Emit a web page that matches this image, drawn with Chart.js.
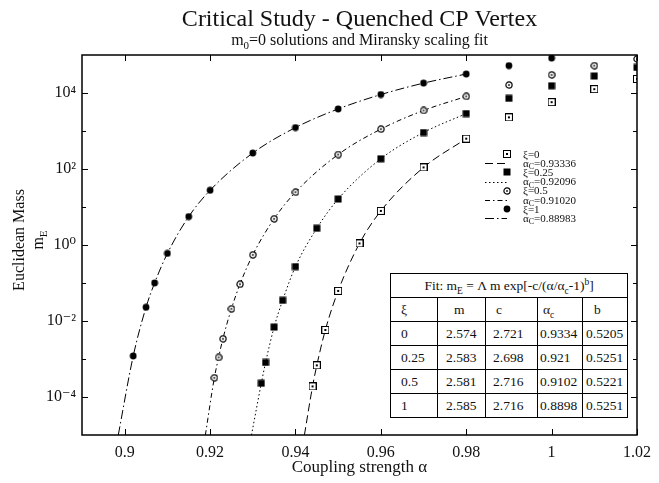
<!DOCTYPE html>
<html>
<head>
<meta charset="utf-8">
<script src="https://cdn.jsdelivr.net/npm/chart.js@4.4.0/dist/chart.umd.min.js"></script>
<style>
  html, body { margin: 0; padding: 0; background: #fff; }
  #wrap { position: relative; width: 659px; height: 483px; }
  #chart { position: absolute; left: 0; top: 0; }
  #fitTable {
    position: absolute; left: 390px; top: 273px; width: 237px;
    border-collapse: collapse; table-layout: fixed; background: #fff;
    font-family: "Liberation Serif", "DejaVu Serif", serif; font-size: 13.5px; color: #111;
    border: 1.5px solid #000;
  }
  #fitTable td { border: 1px solid #000; padding: 0; height: 23px; line-height: 14px; white-space: nowrap; }
  #fitTable td.head { text-align: center; }
  #fitTable sub, #fitTable sup { font-size: 70%; line-height: 0; }
</style>
</head>
<body>
<div id="wrap">
  <canvas id="chart" width="659" height="483"></canvas>
  <table id="fitTable">
    <colgroup><col style="width:47px"><col style="width:48px"><col style="width:52px"><col style="width:45px"><col style="width:45px"></colgroup>
    <tbody>
      <tr><td class="head" colspan="5">Fit: m<sub>E</sub> = &Lambda; m exp[-c/(&alpha;/&alpha;<sub>c</sub>-1)<sup>b</sup>]</td></tr>
      <tr><td style="padding-left:10px">&xi;</td><td style="padding-left:16px">m</td><td style="padding-left:10px">c</td><td style="padding-left:5px">&alpha;<sub>c</sub></td><td style="padding-left:11px">b</td></tr>
    </tbody>
  </table>
</div>
<script>
// ---- data ----
const xiLabels = ['0', '0.25', '0.5', '1'];
const alphaCLabels = ['0.93336', '0.92096', '0.91020', '0.88983'];

// solutions (markers)
const alphaXi0 = [0.944, 0.945, 0.947, 0.95, 0.955, 0.96, 0.97, 0.98, 0.99, 1.0, 1.01, 1.02];
const massXi0 = [1.9e-4, 6.8e-4, 5.8e-3, 6.2e-2, 1.1, 7.9, 110, 630, 2290, 5750, 12600, 23400];

const alphaXi025 = [0.932, 0.933, 0.935, 0.937, 0.94, 0.945, 0.95, 0.96, 0.97, 0.98, 0.99, 1.0, 1.01, 1.02];
const massXi025 = [2.3e-4, 8.1e-4, 6.9e-3, 3.5e-2, 0.27, 2.75, 16.2, 186, 912, 2880, 7240, 15500, 28000, 47000];

const alphaXi05 = [0.921, 0.922, 0.923, 0.925, 0.927, 0.93, 0.935, 0.94, 0.95, 0.96, 0.97, 0.98, 0.99, 1.0, 1.01, 1.02];
const massXi05 = [3.2e-4, 1.1e-3, 3.4e-3, 2.1e-2, 9.3e-2, 0.55, 4.9, 24.5, 240, 1120, 3470, 8130, 16200, 30000, 52500, 79000];

const alphaXi1 = [0.902, 0.905, 0.907, 0.91, 0.915, 0.92, 0.93, 0.94, 0.95, 0.96, 0.97, 0.98, 0.99, 1.0];
const massXi1 = [1.2e-3, 2.3e-2, 0.10, 0.60, 5.6, 27.5, 263, 1230, 3800, 9100, 18200, 31600, 52500, 83000];

// fit curves, points
const fitAlphaXi0 = [0.9421, 0.944, 0.945, 0.947, 0.95, 0.955, 0.96, 0.97, 0.98];
const fitMassXi0 = [1e-5, 1.9e-4, 6.8e-4, 5.8e-3, 6.2e-2, 1.1, 7.9, 110, 630];
const fitAlphaXi025 = [0.9297, 0.932, 0.933, 0.935, 0.937, 0.94, 0.945, 0.95, 0.96, 0.97, 0.98];
const fitMassXi025 = [1e-5, 2.3e-4, 8.1e-4, 6.9e-3, 3.5e-2, 0.27, 2.75, 16.2, 186, 912, 2880];
const fitAlphaXi05 = [0.9189, 0.921, 0.922, 0.923, 0.925, 0.927, 0.93, 0.935, 0.94, 0.95, 0.96, 0.97, 0.98];
const fitMassXi05 = [1e-5, 3.2e-4, 1.1e-3, 3.4e-3, 2.1e-2, 9.3e-2, 0.55, 4.9, 24.5, 240, 1120, 3470, 8130];
const fitAlphaXi1 = [0.8985, 0.902, 0.905, 0.907, 0.91, 0.915, 0.92, 0.93, 0.94, 0.95, 0.96, 0.97, 0.98];
const fitMassXi1 = [1e-5, 1.2e-3, 2.3e-2, 0.10, 0.60, 5.6, 27.5, 263, 1230, 3800, 9100, 18200, 31600];

// axis ticks
const xTicks = [0.9, 0.92, 0.94, 0.96, 0.98, 1.0, 1.02];
const yLabelExps = [-4, -2, 0, 2, 4];
const yDecadeExps = [-4, -3, -2, -1, 0, 1, 2, 3, 4];

// fit table
const tableXi = ['0', '0.25', '0.5', '1'];
const tableM = ['2.574', '2.583', '2.581', '2.585'];
const tableC = ['2.721', '2.698', '2.716', '2.716'];
const tableAlphaC = ['0.9334', '0.921', '0.9102', '0.8898'];
const tableB = ['0.5205', '0.5251', '0.5221', '0.5251'];
const cellPad = [10, 8, 7, 2, 3];

const serif = '"Liberation Serif", "DejaVu Serif", serif';

// fill table rows
const tbody = document.querySelector('#fitTable tbody');
tableXi.forEach((xi, i) => {
  const tr = document.createElement('tr');
  [xi, tableM[i], tableC[i], tableAlphaC[i], tableB[i]].forEach((t, j) => {
    const td = document.createElement('td');
    td.textContent = t;
    td.style.paddingLeft = cellPad[j] + 'px';
    tr.appendChild(td);
  });
  tbody.appendChild(tr);
});

// marker images
function makeMarker(kind) {
  const c = document.createElement('canvas');
  c.width = 8; c.height = 8;
  const g = c.getContext('2d');
  g.fillStyle = '#000'; g.strokeStyle = '#000'; g.lineWidth = 1;
  if (kind === 'openSquare') {
    g.fillStyle = '#fff'; g.fillRect(0, 0, 8, 8);
    g.strokeRect(0.5, 0.5, 7, 7);
    g.fillStyle = '#000'; g.fillRect(3, 3, 2, 2);
  } else if (kind === 'filledSquare') {
    g.fillRect(0.5, 0.5, 7, 7);
  } else if (kind === 'openCircle') {
    g.lineWidth = 1.2;
    g.beginPath(); g.arc(4, 4, 3.1, 0, Math.PI * 2); g.fillStyle = '#fff'; g.fill(); g.stroke();
    g.fillStyle = '#000'; g.fillRect(3.2, 3.2, 1.6, 1.6);
  } else {
    g.beginPath(); g.arc(4, 4, 3.4, 0, Math.PI * 2); g.fill();
  }
  return c;
}

const markers = [makeMarker('openSquare'), makeMarker('filledSquare'), makeMarker('openCircle'), makeMarker('filledCircle')];
const dashes = [[8, 4], [1.5, 2.5], [5, 3, 1.5, 3], [9, 3, 1.5, 3]];

const pointSets = [[alphaXi0, massXi0], [alphaXi025, massXi025], [alphaXi05, massXi05], [alphaXi1, massXi1]];
const fitSets = [[fitAlphaXi0, fitMassXi0], [fitAlphaXi025, fitMassXi025], [fitAlphaXi05, fitMassXi05], [fitAlphaXi1, fitMassXi1]];

function toXY(xs, ys) {
  return xs.map((x, i) => ({ x: x, y: ys[i] }));
}

const datasets = [];
fitSets.forEach((s, i) => {
  datasets.push({
    label: 'αC=' + alphaCLabels[i],
    data: toXY(s[0], s[1]),
    showLine: true,
    borderColor: '#000',
    borderWidth: 1,
    borderDash: dashes[i],
    pointRadius: 0,
    cubicInterpolationMode: 'monotone',
    order: 2,
  });
});
pointSets.forEach((s, i) => {
  datasets.push({
    label: 'ξ=' + xiLabels[i],
    data: toXY(s[0], s[1]),
    showLine: false,
    pointStyle: markers[i],
    pointRadius: 4,
    order: 1,
  });
});

const supMap = { '-': '⁻', '0': '⁰', '1': '¹', '2': '²', '3': '³', '4': '⁴' };

function drawSubText(ctx, parts, x, y, align) {
  ctx.save();
  ctx.textBaseline = 'alphabetic';
  ctx.textAlign = 'left';
  let w = 0;
  parts.forEach(p => { ctx.font = p[1] + 'px ' + serif; w += ctx.measureText(p[0]).width; });
  let cx = align === 'center' ? x - w / 2 : x;
  parts.forEach(p => {
    ctx.font = p[1] + 'px ' + serif;
    ctx.fillText(p[0], cx, y + p[2]);
    cx += ctx.measureText(p[0]).width;
  });
  ctx.restore();
}

// frame, inward ticks, titles and legend
const decorPlugin = {
  id: 'decor',
  afterDraw(chart) {
    const { ctx, chartArea: a, scales } = chart;
    const x = scales.x, y = scales.y;
    ctx.save();
    ctx.strokeStyle = '#000';
    ctx.lineWidth = 1.5;
    ctx.strokeRect(a.left, a.top, a.right - a.left, a.bottom - a.top);
    ctx.lineWidth = 1;
    ctx.beginPath();
    xTicks.forEach(v => {
      const px = Math.round(x.getPixelForValue(v)) + 0.5;
      ctx.moveTo(px, a.bottom); ctx.lineTo(px, a.bottom - 6);
      ctx.moveTo(px, a.top); ctx.lineTo(px, a.top + 6);
    });
    yDecadeExps.forEach(e => {
      const py = Math.round(y.getPixelForValue(Math.pow(10, e))) + 0.5;
      const len = e % 2 === 0 ? 6 : 4;
      ctx.moveTo(a.left, py); ctx.lineTo(a.left + len, py);
      ctx.moveTo(a.right, py); ctx.lineTo(a.right - len, py);
    });
    ctx.stroke();

    // titles
    ctx.fillStyle = '#111';
    ctx.textBaseline = 'alphabetic';
    ctx.textAlign = 'center';
    const cx = (a.left + a.right) / 2;
    ctx.font = '24px ' + serif;
    ctx.fillText('Critical Study - Quenched CP Vertex', cx, 26);
    drawSubText(ctx, [['m', 16, 0], ['0', 11, 4], ['=0 solutions and Miransky scaling fit', 16, 0]], cx, 45, 'center');

    // y axis title
    ctx.save();
    ctx.translate(24, 240);
    ctx.rotate(-Math.PI / 2);
    ctx.font = '16px ' + serif;
    ctx.textAlign = 'center';
    ctx.fillText('Euclidean Mass', 0, 0);
    drawSubText(ctx, [['m', 16, 0], ['E', 11, 4]], 0, 19, 'center');
    ctx.restore();

    // legend
    const lx = 507, tx = 523;
    let ly = 154;
    for (let i = 0; i < 4; i++) {
      ctx.drawImage(markers[i], lx - 4, Math.round(ly) - 4);
      drawSubText(ctx, [['ξ=' + xiLabels[i], 11, 0]], tx, ly + 3.5, 'left');
      ly += 9.2;
      ctx.beginPath();
      ctx.setLineDash(dashes[i]);
      ctx.moveTo(485, Math.round(ly) + 0.5); ctx.lineTo(507, Math.round(ly) + 0.5);
      ctx.stroke();
      ctx.setLineDash([]);
      drawSubText(ctx, [['α', 11, 0], ['C', 8, 2.5], ['=' + alphaCLabels[i], 11, 0]], tx, ly + 3.5, 'left');
      ly += 9.2;
    }
    ctx.restore();
  }
};

new Chart(document.getElementById('chart'), {
  type: 'line',
  data: { datasets: datasets },
  options: {
    responsive: false,
    animation: false,
    layout: { padding: { left: 0, right: 16, top: 55, bottom: 0 } },
    plugins: { legend: { display: false }, tooltip: { enabled: false }, title: { display: false } },
    scales: {
      x: {
        type: 'linear',
        min: 0.89,
        max: 1.02,
        afterBuildTicks: s => { s.ticks = xTicks.map(v => ({ value: v })); },
        afterFit: s => { s.height = 48; },
        grid: { display: false, drawTicks: false },
        border: { display: false },
        ticks: {
          color: '#111', padding: 8, maxRotation: 0, autoSkip: false,
          font: { family: serif, size: 16 },
          callback: v => String(+v.toFixed(2)),
        },
        title: {
          display: true, text: 'Coupling strength α', color: '#111',
          font: { family: serif, size: 17 }, padding: { top: 0, bottom: 5 },
        },
      },
      y: {
        type: 'logarithmic',
        min: 1e-5,
        max: 1e5,
        afterBuildTicks: s => { s.ticks = yLabelExps.map(e => ({ value: Math.pow(10, e) })); },
        afterFit: s => { s.width = 82; },
        grid: { display: false, drawTicks: false },
        border: { display: false },
        ticks: {
          color: '#111', padding: 6, autoSkip: false,
          font: { family: serif, size: 16 },
          callback: v => '10' + String(Math.round(Math.log10(v))).split('').map(c => supMap[c]).join(''),
        },
      },
    },
  },
  plugins: [decorPlugin],
});
</script>
</body>
</html>
